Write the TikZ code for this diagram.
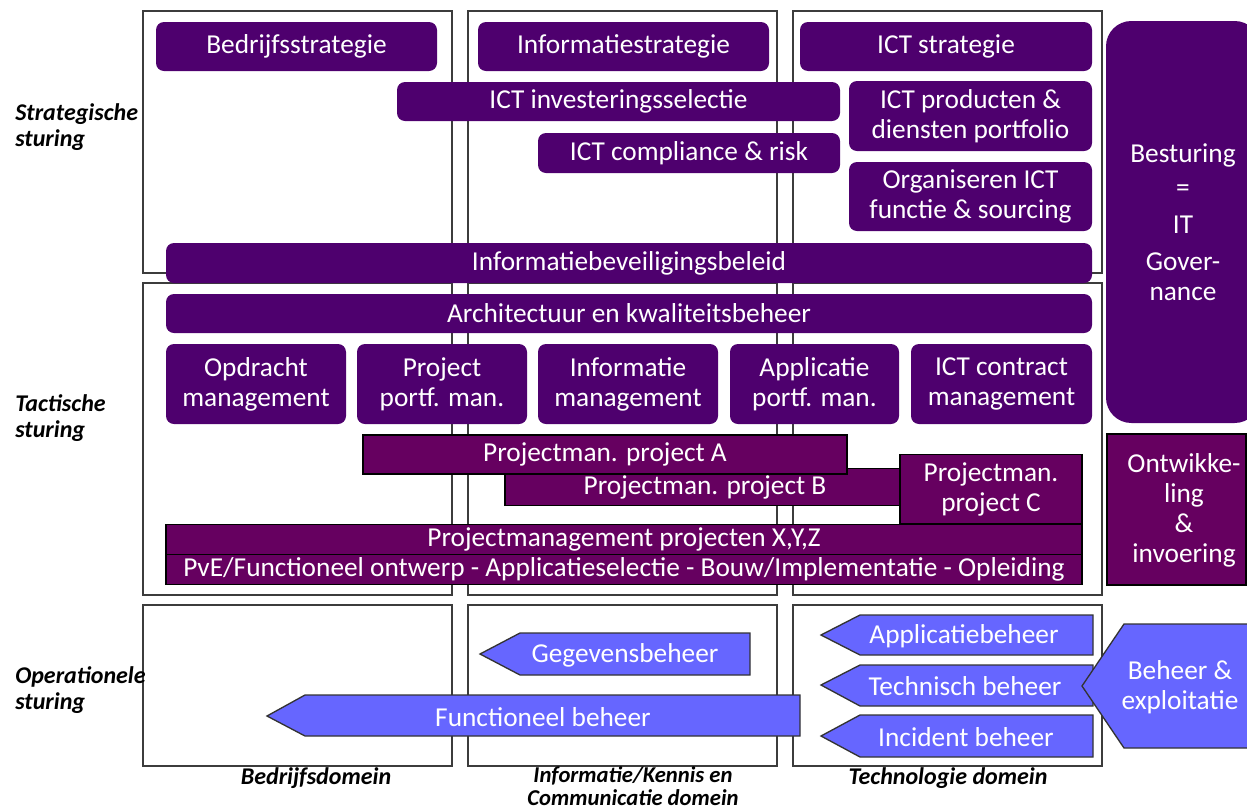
\documentclass[tikz,border=0pt]{standalone}
\usepackage{fontspec}
\setmainfont{Carlito}
\definecolor{govpurple}{RGB}{78,0,110}
\definecolor{projpurple}{RGB}{102,0,96}
\definecolor{beheerblue}{RGB}{102,102,255}
\definecolor{gridline}{RGB}{60,60,60}
\newcommand{\myboxfont}{\fontsize{20.5}{22.5}\selectfont}
\newcommand{\mylblfont}{\fontsize{18}{19.5}\selectfont\bfseries\itshape}
\tikzset{
  gridbox/.style={draw=gridline, line width=1pt},
  sz/.style 2 args={minimum width=#1*0.75pt, minimum height=#2*0.75pt},
  rbox/.style={fill=govpurple, rounded corners=6pt, inner sep=0pt, text=white, font=\myboxfont, align=center},
  pbox/.style={fill=projpurple, draw=black, line width=0.8pt, inner sep=0pt, text=white, font=\myboxfont, align=center},
  arr/.style={fill=beheerblue, draw=black!80, line width=1pt},
  atext/.style={text=white, font=\myboxfont, align=center, inner sep=0pt},
  lbl/.style={font=\mylblfont, align=left, anchor=west, inner sep=0pt},
  dom/.style={font=\mylblfont, align=center, inner sep=0pt}
}
\begin{document}
\begin{tikzpicture}[x=0.75pt,y=-0.75pt]
\useasboundingbox (0,0) rectangle (1247,811);
% grid of domains x levels
\foreach \xa/\xb in {143/452,468/777,793/1102}{
  \draw[gridbox] (\xa,11) rectangle (\xb,273);
  \draw[gridbox] (\xa,283) rectangle (\xb,595);
  \draw[gridbox] (\xa,605) rectangle (\xb,766);
}
% strategic
\node[rbox, sz={281}{49}] (bs) at (296.5,46.5) {Bedrijfsstrategie};
\node[rbox, sz={291}{49}] (is) at (623.5,46.5) {Informatiestrategie};
\node[rbox, sz={292}{49}] (icts) at (946,46.5) {ICT strategie};
\node[rbox, sz={443}{39}] (inv) at (618.5,101.5) {ICT investeringsselectie};
\node[rbox, sz={302}{40}] (comp) at (689,153) {ICT compliance \& risk};
\node[rbox, sz={243}{70}] (prod) at (970.5,116) {ICT producten \&\\diensten portfolio};
\node[rbox, sz={243}{69}] (org) at (970.5,196.5) {Organiseren ICT\\functie \& sourcing};
\node[rbox, sz={926}{40}] (bev) at (629,263) {Informatiebeveiligingsbeleid};
% tactical
\node[rbox, sz={926}{39}] (arch) at (629,313.5) {Architectuur en kwaliteitsbeheer};
\node[rbox, sz={180}{80}] (opdr) at (256,384) {Opdracht\\management};
\node[rbox, sz={170}{80}] (pfm) at (442,384) {Project\\portf. man.};
\node[rbox, sz={180}{80}] (im) at (628,384) {Informatie\\management};
\node[rbox, sz={169}{80}] (apfm) at (814.5,384) {Applicatie\\portf. man.};
\node[rbox, sz={181}{80}] (ictc) at (1001.5,384) {ICT contract\\management};
\node[rbox, rounded corners=19pt, sz={154}{402}] (gov) at (1183,222) {Besturing\\[3pt]=\\[5.25pt]IT\\[5.25pt]Gover-\\nance};
% projects
\node[pbox, sz={400}{37}] (pb) at (705,487) {Projectman. project B};
\node[pbox, sz={484}{39}] (pa) at (605,454.5) {Projectman. project A};
\node[pbox, sz={182}{69}] (pc) at (991,489) {Projectman.\\project C};
\node[pbox, sz={916}{30}] (xyz) at (624,539.5) {Projectmanagement projecten X,Y,Z};
\node[pbox, sz={916}{30}] (pve) at (624,569.5) {PvE/Functioneel ontwerp - Applicatieselectie - Bouw/Implementatie - Opleiding};
\node[pbox, sz={139}{151}] (ontw) at (1176.5,509.5) {};
\node[atext] (ontwt) at (1184,510) {Ontwikke-\\ling\\\&\\invoering};
% operational arrows
\draw[arr] (480,654) -- (520,633) -- (750,633) -- (750,675) -- (520,675) -- cycle;
\node[atext] (geg) at (625,655) {Gegevensbeheer};
\draw[arr] (267,716) -- (305,695) -- (800,695) -- (800,736) -- (305,736) -- cycle;
\node[atext] (func) at (543,717) {Functioneel beheer};
\draw[arr] (821,635) -- (860,615) -- (1093,615) -- (1093,655) -- (860,655) -- cycle;
\node[atext] (appl) at (964,636) {Applicatiebeheer};
\draw[arr] (821,685) -- (860,665) -- (1093,665) -- (1093,706) -- (860,706) -- cycle;
\node[atext] (tech) at (965,686) {Technisch beheer};
\draw[arr] (821,736) -- (860,715) -- (1093,715) -- (1093,757) -- (860,757) -- cycle;
\node[atext] (inc) at (966,737) {Incident beheer};
\draw[arr] (1082,686) -- (1124,624) -- (1262,624) -- (1262,748) -- (1124,748) -- cycle;
\node[atext] (beh) at (1180,687) {Beheer \&\\exploitatie};
% level labels
\node[lbl] (lstrat) at (15,127) {Strategische\\sturing};
\node[lbl] (ltact) at (15,418) {Tactische\\sturing};
\node[lbl] (loper) at (15,690) {Operationele\\sturing};
% domain labels
\node[dom] (dbed) at (316,778) {Bedrijfsdomein};
\node[dom, font=\fontsize{17}{17.5}\selectfont\bfseries\itshape] (dinf) at (633,786) {Informatie/Kennis en\\Communicatie domein};
\node[dom] (dtech) at (948,778) {Technologie domein};
\end{tikzpicture}
\end{document}
